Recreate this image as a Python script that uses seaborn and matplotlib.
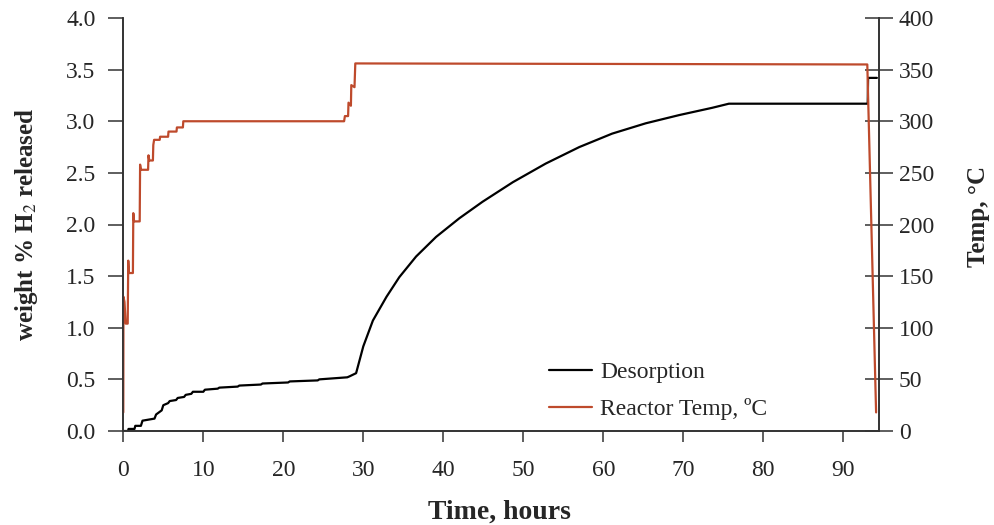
import matplotlib
matplotlib.use("Agg")
import matplotlib.pyplot as plt
import seaborn as sns
import numpy as np

# Hydrogen desorption run: cumulative weight % H2 released and reactor temperature
time_desorption = [0, 0.6, 0.65, 1.4, 1.5, 2.2, 2.4, 3.9, 4.1, 4.8, 5.0, 5.6, 5.8, 6.6, 6.8,
                   7.6, 7.8, 8.5, 8.7, 10.0, 10.2, 11.8, 12.0, 14.3, 14.5, 17.2, 17.4, 20.6,
                   20.8, 24.3, 24.5, 28.0, 28.3, 29.1, 30.0, 31.2, 32.9, 34.5, 36.6, 39.1,
                   42.0, 44.9, 48.7, 52.8, 57.0, 61.1, 65.3, 69.5, 73.6, 75.7, 93.05, 93.1, 94.2]
wt_h2_released = [0, 0, 0.02, 0.02, 0.05, 0.05, 0.10, 0.12, 0.16, 0.20, 0.25, 0.27, 0.29, 0.30,
                  0.32, 0.33, 0.35, 0.36, 0.38, 0.38, 0.40, 0.41, 0.42, 0.43, 0.44, 0.45, 0.46,
                  0.47, 0.48, 0.49, 0.50, 0.52, 0.53, 0.56, 0.82, 1.07, 1.30, 1.49, 1.69, 1.88,
                  2.06, 2.22, 2.41, 2.59, 2.75, 2.88, 2.98, 3.06, 3.13, 3.17, 3.17, 3.42, 3.42]

time_temp = [0, 0.02, 0.15, 0.3, 0.55, 0.62, 0.7, 1.2, 1.25, 1.35, 2.05, 2.1, 2.2, 3.1, 3.15,
             3.25, 3.7, 3.75, 3.85, 4.55, 4.6, 5.6, 5.65, 6.65, 6.7, 7.45, 7.5, 27.6, 27.7,
             28.1, 28.15, 28.45, 28.5, 28.9, 29.0, 93.0, 94.1]
reactor_temp = [18, 130, 125, 104, 104, 165, 153, 153, 211, 203, 203, 258, 253, 253, 267, 262,
                262, 277, 282, 282, 285, 285, 290, 290, 294, 294, 300, 300, 305, 305, 318, 315,
                335, 333, 356, 355, 18]

x_ticks = [0, 10, 20, 30, 40, 50, 60, 70, 80, 90]
wt_ticks = [0.0, 0.5, 1.0, 1.5, 2.0, 2.5, 3.0, 3.5, 4.0]
temp_ticks = [0, 50, 100, 150, 200, 250, 300, 350, 400]

sns.set_style("white")
plt.rcParams["font.family"] = ["Liberation Serif", "DejaVu Serif"]
plt.rcParams["mathtext.fontset"] = "stix"

RED = "#BE4A2C"
SPINE = "#333333"
TICK_FS = 17

fig = plt.figure(figsize=(9.95, 5.25), dpi=100)
ax = fig.add_axes([123.3 / 995, (525 - 431) / 525, (879.3 - 123.3) / 995, (431 - 18) / 525])
ax2 = ax.twinx()

sns.lineplot(x=time_desorption, y=wt_h2_released, ax=ax, color="black", linewidth=1.6,
             sort=False, estimator=None, label="Desorption", legend=False)
sns.lineplot(x=time_temp, y=reactor_temp, ax=ax2, color=RED, linewidth=1.6,
             sort=False, estimator=None, label="Reactor Temp, \u00baC", legend=False)

ax.set_xlim(0, 94.5)
ax.set_ylim(0, 4.0)
ax2.set_ylim(0, 400)
ax.set_xticks(x_ticks)
ax.set_yticks(wt_ticks)
ax.set_yticklabels([f"{v:.1f}" for v in wt_ticks])
ax2.set_yticks(temp_ticks)

for a in (ax, ax2):
    a.spines["top"].set_visible(False)
    for s in a.spines.values():
        s.set_color(SPINE)
        s.set_linewidth(1.2)
    a.grid(False)

ax.tick_params(axis="y", direction="out", length=11, width=1.1, color=SPINE,
               labelsize=TICK_FS, pad=9, left=True)
ax.tick_params(axis="x", direction="out", length=8, width=1.1, color=SPINE,
               labelsize=TICK_FS, pad=13, bottom=True)
ax2.tick_params(axis="y", direction="inout", length=20, width=1.1, color=SPINE,
                labelsize=TICK_FS, pad=4, right=True)

ax.set_xlabel("Time, hours", fontsize=20, fontweight="bold")
ax.set_ylabel("weight % H$_2$ released", fontsize=18, fontweight="bold")
ax2.set_ylabel("Temp, \u00b0C", fontsize=18, fontweight="bold")
ax.xaxis.set_label_coords(0.497, -0.196)
ax.yaxis.set_label_coords(-0.128, 0.50)
ax2.yaxis.set_label_coords(1.131, 0.52)
ax.xaxis.label.set_va("center")
ax.yaxis.label.set_va("center")
ax2.yaxis.label.set_va("center")

handles = ax.get_lines()[:1] + ax2.get_lines()[:1]
labels = ["Desorption", "Reactor Temp, \u00baC"]
ax2.legend(handles, labels, loc="lower left", bbox_to_anchor=(0.545, -0.008), frameon=False,
           fontsize=17, handlelength=1.8, handletextpad=0.35, labelspacing=0.62,
           borderaxespad=0.2)

fig.savefig("out.png", dpi=100)
